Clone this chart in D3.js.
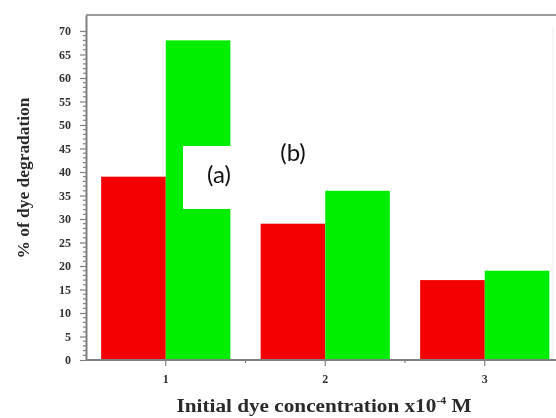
<!DOCTYPE html>
<html>
<head>
<meta charset="utf-8">
<script src="https://cdn.jsdelivr.net/npm/d3@7"></script>
<style>
  html, body { margin: 0; padding: 0; background: #fff; }
  svg { display: block; }
</style>
</head>
<body>
<svg id="chart" width="556" height="418"></svg>
<script>
// Dye degradation (%) at each initial concentration, two sample series
const categories = ["1", "2", "3"];
const seriesNames = ["a", "b"];
const seriesA = [39, 29, 17];
const seriesB = [68, 36, 19];
const seriesColors = ["#f40000", "#04ee04"];
const yTickValues = [0, 5, 10, 15, 20, 25, 30, 35, 40, 45, 50, 55, 60, 65, 70];

const svg = d3.select("#chart");
const W = 556, H = 418;
const plotLeft = 86, plotTop = 15, plotBottom = 360, plotRight = 564.5;

const y = d3.scaleLinear().domain([0, 73.4]).range([plotBottom, plotTop]);
const x = d3.scaleBand().domain(categories).range([plotLeft, plotRight])
  .paddingInner(0.19).paddingOuter(0.095);
const xs = d3.scaleBand().domain(seriesNames).range([0, x.bandwidth()]);

// soft edges on the plotted graphics
const defs = svg.append("defs");
defs.append("filter").attr("id", "soft")
  .attr("x", "-5%").attr("y", "-5%").attr("width", "110%").attr("height", "110%")
  .append("feGaussianBlur").attr("stdDeviation", 0.7);

const g = svg.append("g").attr("filter", "url(#soft)");

// bars
const rows = categories.map((c, i) => ({ c, vals: [seriesA[i], seriesB[i]] }));
g.selectAll("g.grp").data(rows).join("g").attr("class", "grp")
  .attr("transform", d => `translate(${x(d.c)},0)`)
  .selectAll("rect").data(d => d.vals.map((v, k) => ({ k, v })))
  .join("rect")
  .attr("x", d => xs(seriesNames[d.k]))
  .attr("width", xs.bandwidth())
  .attr("y", d => y(d.v))
  .attr("height", d => y(0) - y(d.v))
  .attr("fill", d => seriesColors[d.k]);

// frame: top and right
g.append("line").attr("x1", plotLeft).attr("x2", W).attr("y1", plotTop).attr("y2", plotTop)
  .attr("stroke", "#9a9a9a").attr("stroke-width", 2);
g.append("line").attr("x1", 553).attr("x2", 553).attr("y1", plotTop + 12).attr("y2", plotBottom)
  .attr("stroke", "#ececec").attr("stroke-width", 1);

// y axis with minor ticks
const yAxis = d3.axisLeft(y).tickValues(yTickValues).tickSize(6).tickSizeOuter(0)
  .tickPadding(9).tickFormat(d3.format("d"));
const ya = g.append("g").attr("transform", `translate(${plotLeft},0)`).call(yAxis);
const yMinor = d3.range(0, 71, 1).filter(v => v % 5 !== 0);
ya.selectAll("line.minor").data(yMinor).join("line").attr("class", "minor")
  .attr("x1", -3).attr("x2", 0).attr("y1", d => y(d)).attr("y2", d => y(d));

// x axis with ticks at category centres and minor ticks between them
const xa = g.append("g").attr("transform", `translate(0,${plotBottom})`);
xa.append("line").attr("class", "base").attr("x1", plotLeft).attr("x2", W).attr("y1", 0).attr("y2", 0);
const centres = categories.map(c => x(c) + x.bandwidth() / 2);
const step = x.step();
xa.selectAll("line.maj").data(categories).join("line").attr("class", "maj")
  .attr("x1", (d, i) => centres[i]).attr("x2", (d, i) => centres[i])
  .attr("y1", 0).attr("y2", 6);
xa.selectAll("line.min").data(categories).join("line").attr("class", "min")
  .attr("x1", (d, i) => centres[i] + step / 2).attr("x2", (d, i) => centres[i] + step / 2)
  .attr("y1", 0).attr("y2", 3);
xa.selectAll("text").data(categories).join("text")
  .attr("x", (d, i) => centres[i]).attr("y", 23)
  .attr("text-anchor", "middle").text(d => d);

[ya, xa].forEach(a => {
  a.selectAll("path.domain").attr("stroke", "#808080").attr("stroke-width", 2);
  a.selectAll("line").attr("stroke", "#808080").attr("stroke-width", 1.2);
  a.selectAll("text").attr("fill", "#333").attr("font-family", "Liberation Serif")
    .attr("font-weight", "bold").attr("font-size", 12);
});
xa.select("line.base").attr("stroke-width", 2);

// axis titles
g.append("text")
  .attr("transform", `translate(29,178) rotate(-90)`)
  .attr("text-anchor", "middle")
  .attr("font-family", "Liberation Serif").attr("font-weight", "bold")
  .attr("font-size", 17).attr("fill", "#2a2a2a")
  .attr("textLength", 161).attr("lengthAdjust", "spacingAndGlyphs")
  .text("% of dye degradation");

const xt = g.append("text")
  .attr("x", 324).attr("y", 412)
  .attr("text-anchor", "middle")
  .attr("font-family", "Liberation Serif").attr("font-weight", "bold")
  .attr("font-size", 18).attr("fill", "#2a2a2a")
  .attr("textLength", 295).attr("lengthAdjust", "spacingAndGlyphs");
xt.append("tspan").text("Initial dye concentration x10");
xt.append("tspan").attr("dy", -8).attr("font-size", 10).text("-4");
xt.append("tspan").attr("dy", 8).text(" M");

// panel labels
svg.append("rect").attr("x", 183).attr("y", 146).attr("width", 54).attr("height", 63)
  .attr("fill", "#fff");
svg.append("text").attr("x", 219).attr("y", 183).attr("text-anchor", "middle")
  .attr("font-family", "Lato").attr("font-size", 24).attr("fill", "#111").text("(a)");
svg.append("text").attr("x", 293).attr("y", 161).attr("text-anchor", "middle")
  .attr("font-family", "Lato").attr("font-size", 24).attr("fill", "#111").text("(b)");
</script>
</body>
</html>
